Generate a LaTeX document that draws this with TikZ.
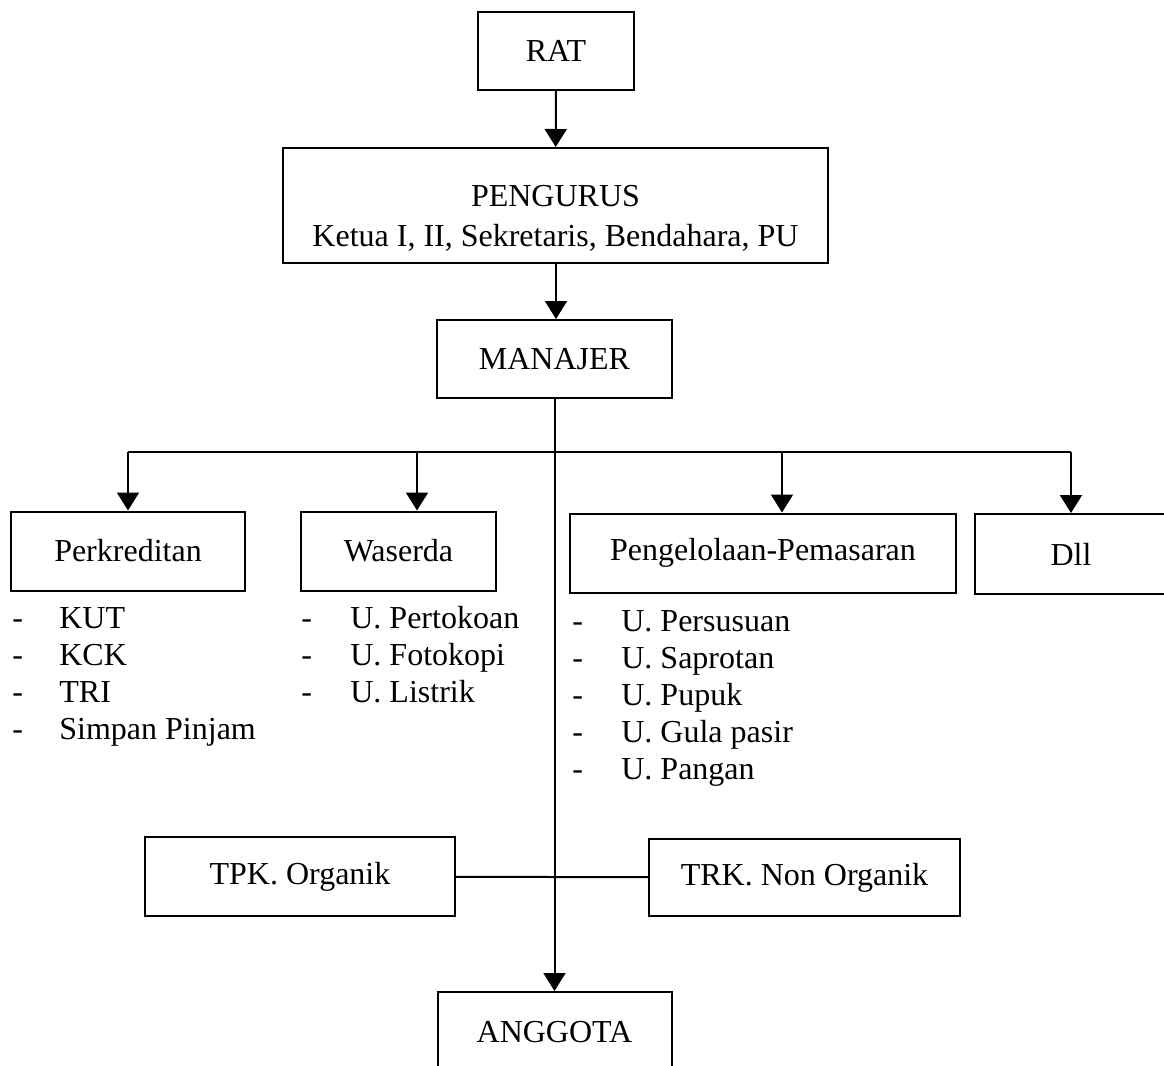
\documentclass[tikz,border=0pt]{standalone}
\usepackage{fontspec}
\setmainfont{Liberation Serif}
\usetikzlibrary{arrows.meta}

\begin{document}
\begin{tikzpicture}[x=0.5pt,y=-0.5pt,
        font=\fontsize{16}{18.5}\selectfont,
        kotak/.style={draw, line width=1pt, inner sep=0pt, align=center},
        panah/.style={line width=1pt, -{Triangle[width=11pt,length=9pt]}},
        garis/.style={line width=1pt},
        daftar/.style={anchor=base west, inner sep=0pt}]
    \useasboundingbox (0,0) rectangle (1164,1066);

    \node[kotak, minimum width=78pt, minimum height=39pt] (rat) at (556,51) {RAT};
    \node[kotak, minimum width=272.5pt, minimum height=57.5pt] (pengurus) at (555.5,205.5)
        {\rule{0pt}{23pt}PENGURUS\\[1.5pt]Ketua I, II, Sekretaris, Bendahara, PU};
    \node[kotak, minimum width=117.5pt, minimum height=39pt] (manajer) at (554.5,359) {MANAJER};

    \node[kotak, minimum width=117pt, minimum height=39.5pt] (kredit) at (128,551) {Perkreditan};
    \node[kotak, minimum width=97.5pt, minimum height=39.5pt] (waserda) at (398.5,551) {Waserda};
    \node[kotak, minimum width=193pt, minimum height=39.5pt] (kelola) at (763,553) {Pengelolaan-Pemasaran};
    \node[kotak, minimum width=96pt, minimum height=40pt] (dll) at (1071,554) {Dll};

    \node[kotak, minimum width=155pt, minimum height=39.5pt] (tpk) at (300,876.5) {TPK. Organik};
    \node[kotak, minimum width=155.5pt, minimum height=38.5pt] (trk) at (804.5,877.5) {TRK. Non Organik};
    \node[kotak, minimum width=117pt, minimum height=40pt] (anggota) at (554.5,1032) {ANGGOTA};

    % daftar usaha
    \node[daftar] (lkredit) at (12,628)
        {\begin{tabular}[t]{@{}p{23.5pt}@{}l@{}}-&KUT\\-&KCK\\-&TRI\\-&Simpan Pinjam\end{tabular}};
    \node[daftar] (lwaserda) at (301,628)
        {\begin{tabular}[t]{@{}p{24.5pt}@{}l@{}}-&U. Pertokoan\\-&U. Fotokopi\\-&U. Listrik\end{tabular}};
    \node[daftar] (lkelola) at (572,631)
        {\begin{tabular}[t]{@{}p{24.5pt}@{}l@{}}-&U. Persusuan\\-&U. Saprotan\\-&U. Pupuk\\-&U. Gula pasir\\-&U. Pangan\end{tabular}};

    % garis
    \draw[panah] (rat) -- (pengurus);
    \draw[panah] (pengurus.south -| rat) -- (manajer.north -| rat);
    \draw[panah] (manajer) -- (anggota);

    \coordinate (bkredit) at (128,452);
    \coordinate (bwaserda) at (417,452);
    \coordinate (bkelola) at (782,452);
    \coordinate (bdll) at (1071,452);
    \draw[garis] (bkredit) -- (bdll);
    \draw[panah] (bkredit) -- (kredit);
    \draw[panah] (bwaserda) -- (bwaserda |- waserda.north);
    \draw[panah] (bkelola) -- (bkelola |- kelola.north);
    \draw[panah] (bdll) -- (dll);

    \draw[garis] (tpk) -- (trk);
\end{tikzpicture}
\end{document}
